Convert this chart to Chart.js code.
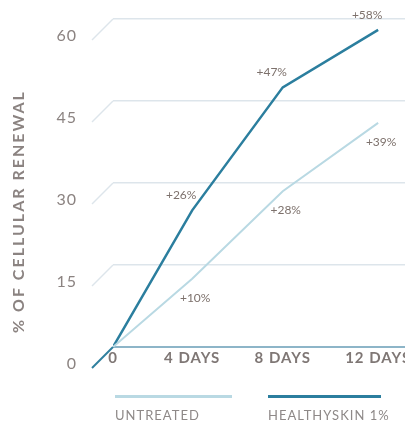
<!DOCTYPE html>
<html>
<head>
<meta charset="utf-8">
<script src="https://cdn.jsdelivr.net/npm/chart.js@4.4.0/dist/chart.umd.min.js"></script>
<style>
  html, body { margin: 0; padding: 0; background: #fff; }
  #wrap { position: relative; width: 405px; height: 424px; overflow: hidden; }
  #legend { position: absolute; left: 0; top: 395px; width: 405px; font-family: Lato, sans-serif; }
  .item { position: absolute; top: 0; border-top: 3px solid; padding-top: 9px; font-size: 13px; color: #8e8988; letter-spacing: 1px; white-space: nowrap; }
</style>
</head>
<body>
<div id="wrap">
  <canvas id="renewalChart" width="405" height="424"></canvas>
  <div id="legend"></div>
</div>
<script>
// data
const dayValues = [0, 4, 8, 12];
const dayLabels = ['0', '4 DAYS', '8 DAYS', '12 DAYS'];
const yTicks = [0, 15, 30, 45, 60];
const seriesNames = ['UNTREATED', 'HEALTHYSKIN 1%'];
const untreated = [0, 12.5, 28.5, 41];
const healthySkin = [0, 25, 47.5, 58];
const untreatedTags = ['', '+10%', '+28%', '+39%'];
const healthyTags = ['', '+26%', '+47%', '+58%'];
const axisTitle = '% OF CELLULAR RENEWAL';

const colors = ['#b9d9e3', '#2b7e9e'];
const tags = [untreatedTags, healthyTags];
const tagOffsets = [[3, 19], [-11, -15]];

// x axis drawn with a little perspective (spacing widens to the right)
class PerspectiveScale extends Chart.LinearScale {
    getPixelForValue(value) {
        const t = Math.max((value - this.min) / (this.max - this.min), 0);
        return this.left + this.width * Math.pow(t, 1.1);
    }
    getValueForPixel(pixel) {
        const t = Math.max((pixel - this.left) / this.width, 0);
        return this.min + Math.pow(t, 1 / 1.1) * (this.max - this.min);
    }
}
PerspectiveScale.id = 'perspective';
PerspectiveScale.defaults = Chart.LinearScale.defaults;
Chart.register(PerspectiveScale);

// diagonal stubs of the grid, rotated title, value tags
const depthGrid = {
    id: 'depthGrid',
    beforeDraw(chart) {
        // wider tracking for the axis labels
        chart.ctx.letterSpacing = '1px';
    },
    beforeDatasetsDraw(chart) {
        const { ctx, chartArea, scales } = chart;
        ctx.letterSpacing = '0px';
        ctx.save();
        yTicks.forEach(function(v) {
            const y = scales.y.getPixelForValue(v);
            ctx.strokeStyle = v === 0 ? '#2f7f9e' : '#dde5eb';
            ctx.lineWidth = v === 0 ? 2 : 1.5;
            ctx.beginPath();
            ctx.moveTo(chartArea.left - 21, y + 21);
            ctx.lineTo(chartArea.left, y);
            ctx.stroke();
        });
        ctx.translate(19, 333);
        ctx.rotate(-Math.PI / 2);
        ctx.font = 'bold 16px Lato';
        ctx.letterSpacing = '2px';
        ctx.fillStyle = '#8b8381';
        ctx.textAlign = 'left';
        ctx.textBaseline = 'middle';
        ctx.fillText(axisTitle, 0, 0);
        ctx.restore();
    },
    afterDatasetsDraw(chart) {
        const ctx = chart.ctx;
        ctx.save();
        ctx.font = '12px Lato';
        ctx.fillStyle = '#7d716c';
        ctx.textAlign = 'center';
        ctx.textBaseline = 'middle';
        chart.data.datasets.forEach(function(ds, i) {
            chart.getDatasetMeta(i).data.forEach(function(pt, j) {
                if (tags[i][j]) {
                    ctx.fillText(tags[i][j], pt.x + tagOffsets[i][0], pt.y + tagOffsets[i][1]);
                }
            });
        });
        ctx.restore();
    }
};

const ctx = document.getElementById('renewalChart').getContext('2d');
new Chart(ctx, {
    type: 'line',
    data: {
        datasets: [{
            label: seriesNames[0],
            data: dayValues.map((d, i) => ({ x: d, y: untreated[i] })),
            borderColor: colors[0],
            borderWidth: 2,
            pointRadius: 0,
            tension: 0
        }, {
            label: seriesNames[1],
            data: dayValues.map((d, i) => ({ x: d, y: healthySkin[i] })),
            borderColor: colors[1],
            borderWidth: 2.5,
            pointRadius: 0,
            tension: 0
        }]
    },
    options: {
        responsive: false,
        animation: false,
        layout: { padding: { top: 19, right: 0, bottom: 55, left: 0 } },
        plugins: {
            legend: { display: false },
            tooltip: { enabled: false }
        },
        scales: {
            x: {
                type: 'perspective',
                min: 0,
                max: 13.1,
                afterBuildTicks: function(scale) {
                    scale.ticks = dayValues.map(v => ({ value: v }));
                },
                ticks: {
                    callback: (v) => dayLabels[dayValues.indexOf(v)],
                    color: '#7f7775',
                    font: { family: 'Lato', size: 15, weight: 'bold' },
                    padding: -6,
                    maxRotation: 0,
                    autoSkip: false
                },
                grid: { display: false },
                border: { display: false },
                afterFit: function(scale) {
                    scale.height = 22;
                    scale.paddingLeft = 0;
                    scale.paddingRight = 0;
                }
            },
            y: {
                min: 0,
                max: 60,
                afterBuildTicks: function(scale) {
                    scale.ticks = yTicks.map(v => ({ value: v }));
                },
                ticks: {
                    color: '#8b8381',
                    font: { family: 'Lato', size: 16 },
                    padding: 36,
                    labelOffset: 17
                },
                grid: {
                    color: (c) => c.tick && c.tick.value === 0 ? '#8db5c8' : '#dde5eb',
                    lineWidth: (c) => c.tick && c.tick.value === 0 ? 2 : 1.5,
                    drawTicks: false
                },
                border: { display: false },
                afterFit: function(scale) {
                    scale.width = 113;
                    scale.paddingTop = 0;
                    scale.paddingBottom = 0;
                }
            }
        }
    },
    plugins: [depthGrid]
});

// legend: coloured bar above each name
const legend = document.getElementById('legend');
const legendLeft = [115, 268];
const legendWidth = [117, 113];
seriesNames.forEach(function(name, i) {
    const el = document.createElement('div');
    el.className = 'item';
    el.style.left = legendLeft[i] + 'px';
    el.style.width = legendWidth[i] + 'px';
    el.style.borderTopColor = colors[i];
    el.textContent = name;
    legend.appendChild(el);
});
</script>
</body>
</html>
